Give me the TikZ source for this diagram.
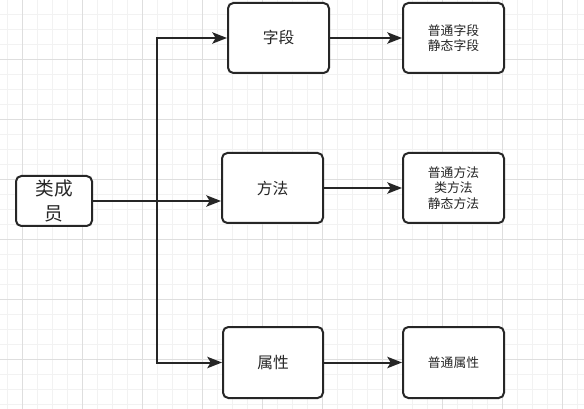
\documentclass[tikz,border=0pt]{standalone}
\usepackage{fontspec}
\newfontfamily\cjk{Noto Sans CJK SC}
\usetikzlibrary{arrows.meta}

\definecolor{lineGray}{RGB}{38,38,38}
\definecolor{gridMinor}{RGB}{242,242,242}
\definecolor{gridMajor}{RGB}{222,222,222}

\tikzset{
	box/.style={draw=lineGray, line width=1.5pt, rounded corners=4pt, fill=white, align=center, text=lineGray, font=\cjk, inner sep=0pt},
	link/.style={draw=lineGray, line width=1.5pt, -{Stealth[length=11pt,width=8.5pt,inset=2.5pt]}}
}
\tikzset{every picture/.style={line width=0.75pt}}

\begin{document}
\begin{tikzpicture}[x=0.75pt,y=0.75pt,yscale=-1,xscale=1]
	\useasboundingbox (0,0) rectangle (584,409);
	\fill[white] (0,0) rectangle (584,409);

	%Grid: minor lines
	\foreach \gx in {7,22,...,577} \draw[gridMinor, line width=0.6pt] (\gx,0) -- (\gx,409);
	\foreach \gy in {14,29,...,404} \draw[gridMinor, line width=0.6pt] (0,\gy) -- (584,\gy);
	%Grid: major lines
	\foreach \gx in {22,82,...,562} \draw[gridMajor, line width=0.6pt] (\gx,0) -- (\gx,409);
	\foreach \gy in {59,119,...,359} \draw[gridMajor, line width=0.6pt] (0,\gy) -- (584,\gy);

	% Text Node: class member
	\node[box, minimum width=57pt, minimum height=37.5pt, font=\cjk\fontsize{14}{18.75}\selectfont] (member) at (54,201) {类成\\员};
	% Text Node: field
	\node[box, minimum width=75.75pt, minimum height=52.5pt, font=\cjk\fontsize{11.8}{14}\selectfont] (field) at (278.5,38) {字段};
	% Text Node: method
	\node[box, minimum width=75.75pt, minimum height=52.5pt, font=\cjk\fontsize{11.8}{14}\selectfont] (method) at (272.5,188) {方法};
	% Text Node: property
	\node[box, minimum width=75pt, minimum height=53.25pt, font=\cjk\fontsize{11.8}{14}\selectfont] (prop) at (273,362.5) {属性};
	% Text Node: field list
	\node[box, minimum width=75.75pt, minimum height=52.5pt, font=\cjk\fontsize{9.6}{11.5}\selectfont] (fieldlist) at (453.5,38) {普通字段\\静态字段};
	% Text Node: method list
	\node[box, minimum width=75.75pt, minimum height=52.5pt, font=\cjk\fontsize{9.6}{11.5}\selectfont] (methodlist) at (453.5,188) {普通方法\\类方法\\静态方法};
	% Text Node: property list
	\node[box, minimum width=75.75pt, minimum height=53.25pt, font=\cjk\fontsize{9.6}{11.5}\selectfont] (proplist) at (453.5,362.5) {普通属性};

	%Split point on the trunk
	\coordinate (split) at (157,201);

	%Connectors
	\draw[link] (member.east) -- (member.east -| method.west);
	\draw[link] (split) |- (field.west);
	\draw[link] (split) |- (prop.west);
	\draw[link] (field) -- (fieldlist);
	\draw[link] (method) -- (methodlist);
	\draw[link] (prop) -- (proplist);

\end{tikzpicture}
\end{document}
